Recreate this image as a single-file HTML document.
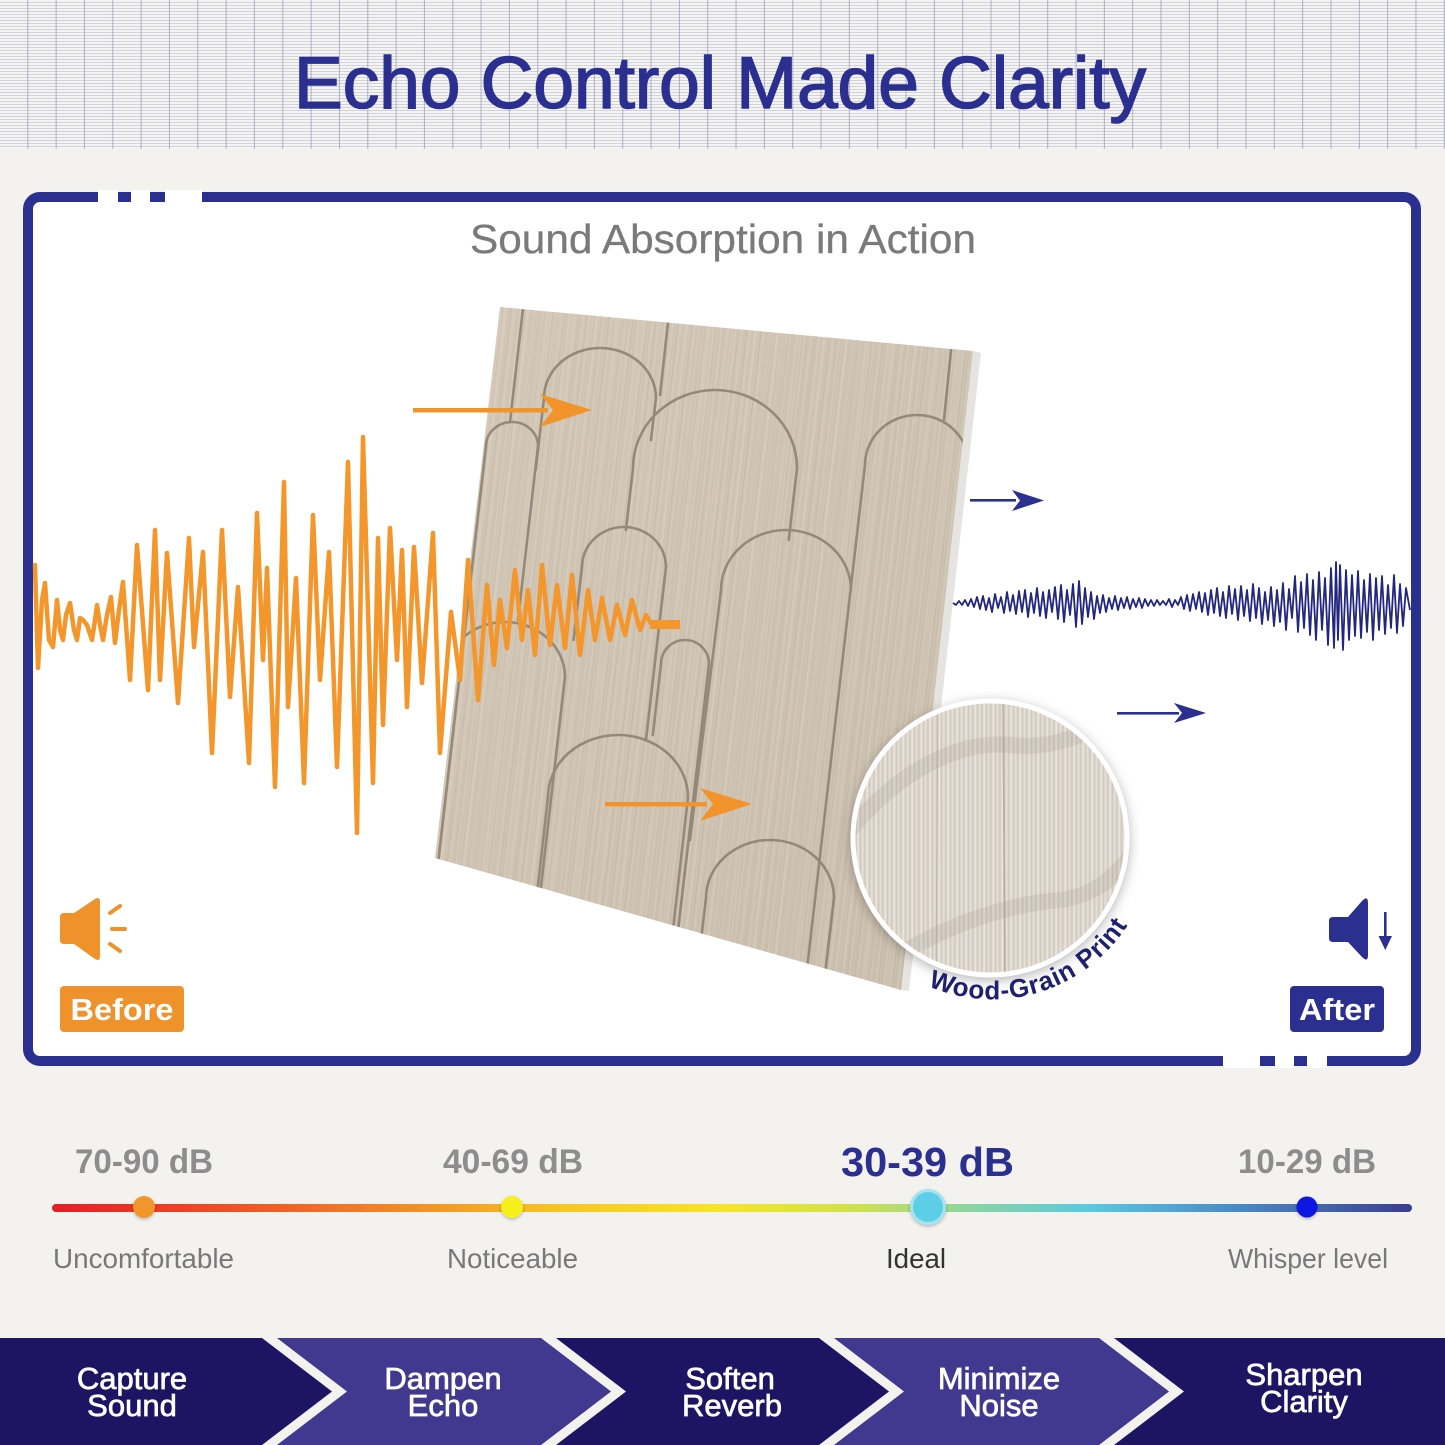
<!DOCTYPE html>
<html><head><meta charset="utf-8">
<style>
html,body{margin:0;padding:0;}
body{width:1445px;height:1445px;position:relative;overflow:hidden;background:#f3f2ef;font-family:"Liberation Sans",Arial,sans-serif;}
svg{position:absolute;left:0;top:0;}
</style></head>
<body>
<svg width="1445" height="1445" viewBox="0 0 1445 1445" xmlns="http://www.w3.org/2000/svg">
<defs>
  <pattern id="hlines" width="40" height="3" patternUnits="userSpaceOnUse">
    <rect x="0" y="0" width="40" height="3" fill="#f4f4f4"/>
    <rect x="0" y="2" width="40" height="1" fill="#d2d2d7"/>
  </pattern>
  <pattern id="vlines" width="28.33" height="40" patternUnits="userSpaceOnUse">
    <rect x="27.3" y="0" width="1" height="40" fill="#9396b6" opacity="0.7"/>
  </pattern>
  <linearGradient id="track" x1="52" y1="0" x2="1412" y2="0" gradientUnits="userSpaceOnUse">
    <stop offset="0" stop-color="#e31e27"/>
    <stop offset="0.07" stop-color="#ec3726"/>
    <stop offset="0.18" stop-color="#f06628"/>
    <stop offset="0.29" stop-color="#f39a27"/>
    <stop offset="0.37" stop-color="#f6c523"/>
    <stop offset="0.49" stop-color="#f7e527"/>
    <stop offset="0.59" stop-color="#cfe24c"/>
    <stop offset="0.67" stop-color="#8ed59c"/>
    <stop offset="0.76" stop-color="#5cc9e0"/>
    <stop offset="0.87" stop-color="#4a8bc8"/>
    <stop offset="1" stop-color="#3b3d8d"/>
  </linearGradient>
  <linearGradient id="panelg" x1="0" y1="0" x2="1" y2="1">
    <stop offset="0" stop-color="#d5c9b9"/>
    <stop offset="1" stop-color="#cbbfaf"/>
  </linearGradient>
  <pattern id="grain" width="14" height="60" patternUnits="userSpaceOnUse" patternTransform="skewX(-6.6)">
    <rect x="1" y="0" width="0.7" height="60" fill="#a89a86" opacity="0.28"/>
    <rect x="3.5" y="0" width="1" height="60" fill="#e2d9cb" opacity="0.3"/>
    <rect x="6.8" y="0" width="0.6" height="60" fill="#9e917f" opacity="0.2"/>
    <rect x="9.5" y="0" width="1.2" height="60" fill="#dfd6c8" opacity="0.28"/>
    <rect x="12.2" y="0" width="0.6" height="60" fill="#ab9e8b" opacity="0.22"/>
  </pattern>
  <pattern id="grain2" width="23" height="80" patternUnits="userSpaceOnUse" patternTransform="skewX(-6.6)">
    <rect x="2" y="0" width="1.5" height="80" fill="#b9ab98" opacity="0.18"/>
    <rect x="11" y="0" width="2" height="80" fill="#e3dbcf" opacity="0.18"/>
    <rect x="17" y="0" width="0.8" height="80" fill="#9d907e" opacity="0.16"/>
  </pattern>
  <pattern id="cgrain" width="9" height="60" patternUnits="userSpaceOnUse">
    <rect x="0.5" y="0" width="0.8" height="60" fill="#b5aa9c" opacity="0.45"/>
    <rect x="2.5" y="0" width="1.5" height="60" fill="#f2ede6" opacity="0.6"/>
    <rect x="5.2" y="0" width="0.7" height="60" fill="#a99e90" opacity="0.35"/>
    <rect x="7" y="0" width="1.2" height="60" fill="#ece6de" opacity="0.5"/>
  </pattern>
  <clipPath id="pclip"><polygon points="500,307 973,351 901,990 435,858"/></clipPath>
  <clipPath id="cclip"><circle cx="990" cy="838" r="137"/></clipPath>
  <filter id="sh" x="-20%" y="-20%" width="140%" height="140%">
    <feDropShadow dx="0" dy="3" stdDeviation="6" flood-color="#000" flood-opacity="0.3"/>
  </filter>
  <filter id="dsh" x="-50%" y="-50%" width="200%" height="200%">
    <feDropShadow dx="0" dy="1.5" stdDeviation="1.5" flood-color="#000" flood-opacity="0.25"/>
  </filter>
  <path id="warc" d="M928,986 A161,161 0 0 0 1140,902"/>
</defs>

<!-- Header -->
<rect x="0" y="0" width="1445" height="149" fill="url(#hlines)"/>
<rect x="0" y="0" width="1445" height="149" fill="url(#vlines)"/>

<!-- Title -->
<text x="720" y="108" text-anchor="middle" font-size="73" fill="#2b2f8f" stroke="#2b2f8f" stroke-width="1.6" textLength="852" lengthAdjust="spacingAndGlyphs">Echo Control Made Clarity</text>

<!-- Frame -->
<rect x="28" y="197" width="1388" height="864" rx="12" ry="12" fill="#ffffff" stroke="#2b2f8f" stroke-width="10"/>
<rect x="98" y="190" width="20" height="14" fill="#ffffff"/>
<rect x="131" y="190" width="19" height="14" fill="#ffffff"/>
<rect x="165" y="190" width="37" height="14" fill="#ffffff"/>
<rect x="1223" y="1054" width="37" height="14" fill="#ffffff"/>
<rect x="1275" y="1054" width="19" height="14" fill="#ffffff"/>
<rect x="1307" y="1054" width="20" height="14" fill="#ffffff"/>

<text x="723" y="253" text-anchor="middle" font-size="41" fill="#7a7a7a" stroke="#7a7a7a" stroke-width="0.3" textLength="506" lengthAdjust="spacingAndGlyphs">Sound Absorption in Action</text>

<!-- Panel -->
<polygon points="973,351 981,353 909,991 901,990" fill="#e6e4e0"/>
<polygon points="500,307 973,351 901,990 435,858" fill="url(#panelg)"/>
<polygon points="500,307 973,351 901,990 435,858" fill="url(#grain)"/>
<polygon points="500,307 973,351 901,990 435,858" fill="url(#grain2)"/>
<g clip-path="url(#pclip)" fill="none" stroke="#8a7f70" stroke-width="2.6" stroke-linecap="round" opacity="0.85">
  <path d="M535.7,470 L544,398 A56,50 0 0 1 656,398 L651,440"/>
  <path d="M433.8,900 L486,446 A26,24 0 0 1 538,446 L518,620"/>
  <path d="M625.9,530 L633,468 A82,78 0 0 1 797,468 L788.7,540"/>
  <path d="M803.5,1000 L865,465 A52,50 0 0 1 969,465 L907.5,1000"/>
  <path d="M573.6,640 L582,567 A42,40 0 0 1 666,567 L646,740"/>
  <path d="M690,840 L721,590 A65,60 0 0 1 851,590"/>
  <path d="M430,900 L445,677 A60,55 0 0 1 565,677 L528,1000"/>
  <path d="M652.8,735 L661,664 A24,24 0 0 1 709,664 L670,1000"/>
  <path d="M525,1000 L548,797 A70,62 0 0 1 688,797 L665,1000"/>
  <path d="M694,1000 L706,898 A64,58 0 0 1 834,898 L822,1000"/>
  <path d="M523,309 L510,422"/>
  <path d="M668,322 L660,395"/>
  <path d="M951,350 L944,420"/>
</g>

<!-- Orange arrows -->
<g fill="#f3942b">
  <rect x="413" y="408" width="135" height="4.5"/>
  <polygon points="540,394 592,410 540,427 553,410"/>
  <rect x="605" y="802" width="102" height="4.5"/>
  <polygon points="700,788 752,804 700,821 713,804"/>
</g>

<!-- Orange waveform -->
<path fill="none" stroke="#f3962c" stroke-width="4.5" stroke-linejoin="round" stroke-linecap="round"
d="M35,565 L38,668 L42,600 L45,583 L49,640 L53,647 L57,600 L60,630 L63,640 L66,615 L70,603 L74,630 L77,640 L80,618 L83,620 L87,625 L92,640 L95,620 L97,605 L100,625 L103,640 L107,615 L111,597 L115,643 L119,610 L123,582 L130,680 L137,545 L148,690 L155,530 L160,680 L167,553 L178,703 L189,538 L194,647 L203,552 L212,753 L222,530 L230,697 L238,587 L249,763 L257,513 L263,660 L267,568 L275,787 L284,482 L288,707 L296,578 L304,783 L313,515 L320,680 L329,552 L337,767 L348,462 L357,833 L363,437 L373,783 L378,538 L383,725 L390,528 L397,660 L402,550 L407,707 L414,547 L422,683 L433,533 L440,753 L451,612 L460,680 L468,560 L478,700 L487,585 L494,665 L500,600 L507,648 L515,570 L522,640 L528,590 L535,655 L542,565 L550,645 L557,585 L565,648 L572,575 L580,655 L588,590 L595,640 L602,598 L610,640 L617,605 L625,635 L632,600 L640,630 L646,615 L652,625"/>
<rect x="650" y="620" width="30" height="9" fill="#f3962c"/>

<!-- Blue arrows -->
<g fill="#2b2f8f">
  <rect x="970" y="499" width="46" height="2.6"/>
  <polygon points="1012,490 1044,500.5 1012,511 1020,500.5"/>
  <rect x="1117" y="712" width="62" height="2.6"/>
  <polygon points="1174,703 1206,713 1174,723 1182,713"/>
</g>

<!-- Blue waveform -->
<path fill="none" stroke="#22267c" stroke-width="1.8" stroke-linejoin="round"
d="M953,603 L956,605 L959,601 L962,605 L965,600 L968,606 L971,599 L974,607 L977,597 L980,609 L983,596 L986,610 L989,598 L992,612 L995,594 L998,608 L1001,597 L1004,613 L1007,592 L1010,611 L1013,595 L1016,614 L1019,591 L1022,612 L1025,590 L1028,617 L1031,593 L1034,613 L1037,588 L1040,616 L1043,592 L1046,618 L1049,590 L1052,612 L1055,587 L1058,619 L1061,585 L1064,622 L1067,590 L1070,615 L1073,584 L1076,627 L1079,581 L1082,624 L1085,588 L1088,617 L1091,592 L1094,619 L1097,596 L1100,613 L1103,595 L1106,612 L1109,598 L1112,609 L1115,596 L1118,610 L1121,598 L1124,608 L1127,597 L1130,609 L1133,599 L1136,607 L1139,598 L1142,608 L1145,599 L1148,606 L1151,600 L1154,606 L1157,600 L1160,605 L1163,601 L1166,605 L1169,599 L1172,607 L1175,600 L1178,605 L1181,597 L1184,609 L1187,595 L1190,611 L1193,594 L1196,609 L1199,592 L1202,612 L1205,593 L1208,615 L1211,590 L1214,613 L1217,588 L1220,616 L1223,592 L1226,618 L1229,586 L1232,614 L1235,589 L1238,620 L1241,586 L1244,616 L1247,590 L1250,621 L1253,584 L1256,618 L1259,588 L1262,624 L1265,592 L1268,620 L1271,587 L1274,626 L1277,590 L1280,622 L1283,583 L1286,630 L1289,589 L1292,618 L1295,576 L1298,632 L1301,582 L1304,628 L1307,574 L1310,635 L1313,580 L1316,640 L1319,572 L1322,630 L1325,578 L1328,645 L1331,568 L1334,648 L1336,562 L1338,640 L1340,565 L1343,650 L1346,570 L1349,640 L1352,575 L1355,636 L1358,571 L1361,638 L1364,580 L1367,632 L1370,574 L1373,640 L1376,578 L1379,630 L1382,576 L1385,634 L1388,585 L1391,628 L1394,575 L1397,633 L1400,584 L1403,626 L1406,588 L1410,610"/>

<!-- Magnifier circle -->
<g filter="url(#sh)">
  <circle cx="990" cy="838" r="139" fill="#ffffff"/>
</g>
<g clip-path="url(#cclip)">
  <rect x="850" y="698" width="280" height="280" fill="#ddd6cd"/>
  <rect x="850" y="698" width="280" height="280" fill="url(#cgrain)"/>
  <path d="M850,830 C900,770 960,740 1010,745 C1060,750 1100,730 1130,700" fill="none" stroke="#8c8173" stroke-width="16" opacity="0.16"/>
  <path d="M870,975 C930,930 1000,905 1060,900 C1100,895 1120,870 1135,850" fill="none" stroke="#8c8173" stroke-width="16" opacity="0.16"/>
  <path d="M1003,700 L1005,980" stroke="#9e9385" stroke-width="1.5" opacity="0.6"/>
  <path d="M938,700 L936,980" stroke="#a89d8f" stroke-width="1" opacity="0.5"/>
</g>
<circle cx="990" cy="838" r="137" fill="none" stroke="#ffffff" stroke-width="5"/>
<text font-size="26" font-weight="bold" fill="#1f2170" letter-spacing="0.8"><textPath href="#warc">Wood-Grain Print</textPath></text>

<!-- Before icon -->
<path d="M60,917 Q60,913 64,913 L74,913 L95,899 Q100,896 100,902 L100,956 Q100,962 95,959 L74,944 L64,944 Q60,944 60,940 Z" fill="#f0922b"/>
<g stroke="#f0922b" stroke-width="4" stroke-linecap="round">
  <line x1="110" y1="913" x2="120" y2="906"/>
  <line x1="112" y1="929" x2="125" y2="929"/>
  <line x1="110" y1="944" x2="120" y2="951"/>
</g>
<rect x="60" y="986" width="124" height="46" rx="4" fill="#f0922b"/>
<text x="122" y="1020" text-anchor="middle" font-size="31" font-weight="bold" fill="#ffffff" textLength="103" lengthAdjust="spacingAndGlyphs">Before</text>

<!-- After icon -->
<path d="M1329,921 Q1329,917 1333,917 L1348,917 L1362,901 Q1368,895 1368,903 L1368,955 Q1368,963 1362,957 L1348,942 L1333,942 Q1329,942 1329,938 Z" fill="#2b2f8f"/>
<rect x="1384" y="912" width="2.6" height="28" fill="#2b2f8f"/>
<polygon points="1378.5,936 1392,936 1385.3,950" fill="#2b2f8f"/>
<rect x="1290" y="986" width="94" height="46" rx="4" fill="#2b2f8f"/>
<text x="1337" y="1020" text-anchor="middle" font-size="31" font-weight="bold" fill="#ffffff" textLength="76" lengthAdjust="spacingAndGlyphs">After</text>

<!-- Scale -->
<text x="75" y="1173" font-size="34" font-weight="bold" fill="#8d8d8d" textLength="138" lengthAdjust="spacingAndGlyphs">70-90 dB</text>
<text x="443" y="1173" font-size="34" font-weight="bold" fill="#8d8d8d" textLength="140" lengthAdjust="spacingAndGlyphs">40-69 dB</text>
<text x="841" y="1176" font-size="41" font-weight="bold" fill="#2b2f8f" textLength="173" lengthAdjust="spacingAndGlyphs">30-39 dB</text>
<text x="1238" y="1173" font-size="34" font-weight="bold" fill="#8d8d8d" textLength="138" lengthAdjust="spacingAndGlyphs">10-29 dB</text>

<rect x="52" y="1204" width="1360" height="8" rx="4" fill="url(#track)"/>
<circle cx="144" cy="1207" r="11" fill="#f2952a" filter="url(#dsh)"/>
<circle cx="512" cy="1207" r="11" fill="#f7ef1c" filter="url(#dsh)"/>
<circle cx="928" cy="1207" r="18" fill="#a6e3f0" filter="url(#dsh)"/>
<circle cx="928" cy="1207" r="15" fill="#5ccfe6"/>
<circle cx="1307" cy="1207" r="10.5" fill="#0a12e2" filter="url(#dsh)"/>

<text x="53" y="1268" font-size="28" fill="#787878" textLength="181" lengthAdjust="spacingAndGlyphs">Uncomfortable</text>
<text x="447" y="1268" font-size="28" fill="#787878" textLength="131" lengthAdjust="spacingAndGlyphs">Noticeable</text>
<text x="886" y="1268" font-size="28" fill="#333333" textLength="60" lengthAdjust="spacingAndGlyphs">Ideal</text>
<text x="1228" y="1268" font-size="28" fill="#787878" textLength="160" lengthAdjust="spacingAndGlyphs">Whisper level</text>

<!-- Bottom chevrons -->
<rect x="0" y="1338" width="1445" height="107" fill="#1d1563"/>
<polygon points="277,1338 541,1338 611,1391.5 541,1445 277,1445 347,1391.5" fill="#41388f"/>
<polygon points="834,1338 1099,1338 1169,1391.5 1099,1445 834,1445 904,1391.5" fill="#41388f"/>
<g fill="#f3f2ef">
  <polygon points="262,1338 277,1338 347,1391.5 277,1445 262,1445 332,1391.5"/>
  <polygon points="541,1338 556,1338 626,1391.5 556,1445 541,1445 611,1391.5"/>
  <polygon points="819,1338 834,1338 904,1391.5 834,1445 819,1445 889,1391.5"/>
  <polygon points="1099,1338 1114,1338 1184,1391.5 1114,1445 1099,1445 1169,1391.5"/>
</g>
<g fill="#ffffff" stroke="#ffffff" stroke-width="0.7" font-size="31" text-anchor="middle">
  <text x="132" y="1389">Capture</text>
  <text x="132" y="1416">Sound</text>
  <text x="443" y="1389">Dampen</text>
  <text x="443" y="1416">Echo</text>
  <text x="730" y="1389">Soften</text>
  <text x="732" y="1416">Reverb</text>
  <text x="999" y="1389">Minimize</text>
  <text x="999" y="1416">Noise</text>
  <text x="1304" y="1385">Sharpen</text>
  <text x="1304" y="1412">Clarity</text>
</g>
</svg>
</body></html>
